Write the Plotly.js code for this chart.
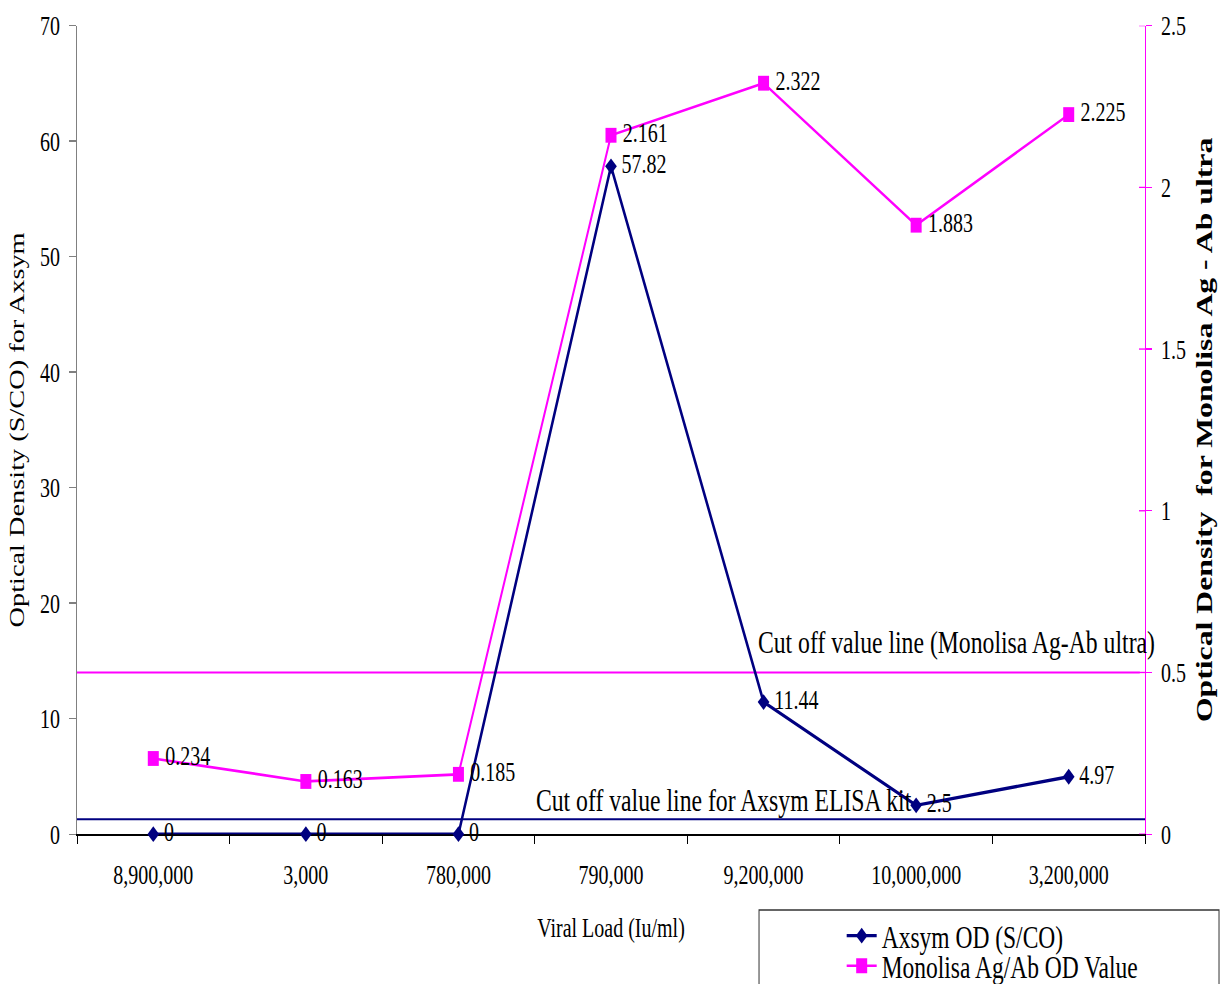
<!DOCTYPE html>
<html>
<head>
<meta charset="utf-8">
<script src="https://cdn.plot.ly/plotly-3.0.1.min.js"></script>
<style>
  html { margin: 0; padding: 0; background: #fff; overflow: hidden; height: 984px; }
  body { margin: 0; padding: 0; background: #fff; height: 984px; }
  /* drawn at 729px tall, then stretched vertically to fill the 984px window */
  #chart { width: 1227px; height: 729px; transform-origin: 0 0; transform: scaleY(1.3498); }
</style>
</head>
<body>
<div id="chart"></div>
<script>
// Viral load of each sample (category axis)
const viralLoads = ['8,900,000', '3,000', '780,000', '790,000', '9,200,000', '10,000,000', '3,200,000'];
// Axsym optical density, S/CO (left axis)
const axsymOD = [0, 0, 0, 57.82, 11.44, 2.5, 4.97];
// Monolisa Ag/Ab optical density (right axis)
const monolisaOD = [0.234, 0.163, 0.185, 2.161, 2.322, 1.883, 2.225];
// Cut-off values for each kit
const axsymCutoff = 1.3;
const monolisaCutoff = 0.5;
// Axis ticks
const leftTicks = [0, 10, 20, 30, 40, 50, 60, 70];
const rightTicks = [0, 0.5, 1, 1.5, 2, 2.5];

const FONT = 'Liberation Serif, Times New Roman, serif';
const NAVY = '#000080';
const MAGENTA = '#FF00FF';

const axsymTrace = {
  type: 'scatter',
  name: 'Axsym OD (S/CO)',
  x: viralLoads,
  y: axsymOD,
  yaxis: 'y',
  mode: 'lines+markers+text',
  text: axsymOD.map(String),
  texttemplate: '\u2009%{text}',
  textposition: 'middle right',
  textfont: { family: FONT, size: 20, color: '#000' },
  line: { color: NAVY, width: 2.5 },
  marker: { symbol: 'diamond', size: 9, color: NAVY },
  cliponaxis: false,
  legend: 'legend'
};

const monolisaTrace = {
  type: 'scatter',
  name: 'Monolisa Ag/Ab OD Value',
  x: viralLoads,
  y: monolisaOD,
  yaxis: 'y2',
  mode: 'lines+markers+text',
  text: monolisaOD.map(String),
  texttemplate: '\u2009%{text}',
  textposition: 'middle right',
  textfont: { family: FONT, size: 20, color: '#000' },
  line: { color: MAGENTA, width: 2 },
  marker: { symbol: 'square', size: 11, color: MAGENTA },
  cliponaxis: false,
  legend: 'legend2'
};

// Short inward tick marks on the right axis (outward ones come from the axis itself)
const innerRightTicks = rightTicks.map(v => ({
  type: 'line', xref: 'paper', yref: 'y2',
  x0: 1 - 6 / 1068, x1: 1, y0: v, y1: v,
  line: { color: MAGENTA, width: 1 }
}));

const shapes = [
  { type: 'line', xref: 'paper', yref: 'y2', x0: 0, x1: 0.995, y0: monolisaCutoff, y1: monolisaCutoff,
    line: { color: MAGENTA, width: 1.5 }, layer: 'below' },
  { type: 'line', xref: 'paper', yref: 'y', x0: 0, x1: 1, y0: axsymCutoff, y1: axsymCutoff,
    line: { color: NAVY, width: 1.5 }, layer: 'below' },
  // legend frame
  { type: 'rect', xref: 'paper', yref: 'paper', x0: 0.6386, x1: 1.0693, y0: -0.0938, y1: -0.35,
    line: { color: '#333', width: 1 }, fillcolor: 'rgba(0,0,0,0)' }
].concat(innerRightTicks);

const legendBase = {
  x: 0.716, xanchor: 'left', yanchor: 'middle',
  bgcolor: 'rgba(0,0,0,0)', borderwidth: 0,
  font: { family: FONT, size: 23.5, color: '#000' }
};

const layout = {
  width: 1227,
  height: 729,
  margin: { l: 77, r: 82, t: 19, b: 111, autoexpand: false },
  paper_bgcolor: '#fff',
  plot_bgcolor: '#fff',
  font: { family: FONT, size: 20, color: '#000' },
  showlegend: true,
  legend: Object.assign({ y: -0.1259 }, legendBase),
  legend2: Object.assign({ y: -0.1631 }, legendBase),
  xaxis: {
    type: 'category',
    range: [-0.5, 6.5],
    tickson: 'boundaries',
    ticks: 'outside', ticklen: 6, tickcolor: '#000', tickwidth: 1,
    showline: true, linecolor: '#000', linewidth: 1,
    showgrid: false, zeroline: false,
    layer: 'below traces',
    tickfont: { family: FONT, size: 20, color: '#000' },
    ticklabelstandoff: 12,
    title: { text: 'Viral Load (Iu/ml)', font: { family: FONT, size: 20, color: '#000' }, standoff: 22 }
  },
  yaxis: {
    range: [0, 70],
    tickvals: leftTicks,
    ticks: 'outside', ticklen: 7, tickcolor: '#808080',
    showline: true, linecolor: '#808080', linewidth: 1,
    showgrid: false, zeroline: false,
    layer: 'below traces',
    tickfont: { family: FONT, size: 20, color: '#000' },
    ticklabelstandoff: 5,
    title: { text: 'Optical Density (S/CO) for Axsym', font: { family: FONT, size: 21, color: '#000' }, standoff: 9 }
  },
  yaxis2: {
    overlaying: 'y',
    side: 'right',
    range: [0, 2.5],
    tickvals: rightTicks,
    ticks: 'outside', ticklen: 6, tickcolor: MAGENTA,
    showline: true, linecolor: MAGENTA, linewidth: 1,
    showgrid: false, zeroline: false,
    layer: 'below traces',
    tickfont: { family: FONT, size: 20, color: '#000' },
    ticklabelstandoff: 5,
    title: { text: 'Optical Density\u00a0 for Monolisa Ag - Ab ultra',
             font: { family: FONT, size: 23.5, color: '#000', weight: 'bold' }, standoff: 10 }
  },
  shapes: shapes,
  annotations: [
    { text: 'Cut off value line (Monolisa Ag-Ab ultra)', xref: 'paper', yref: 'paper',
      x: 0.636, y: 0.2364, xanchor: 'left', yanchor: 'middle', showarrow: false,
      font: { family: FONT, size: 23.7, color: '#000' } },
    { text: 'Cut off value line for Axsym ELISA kit', xref: 'paper', yref: 'paper',
      x: 0.428, y: 0.0422, xanchor: 'left', yanchor: 'middle', showarrow: false,
      font: { family: FONT, size: 23.7, color: '#000' } }
  ]
};

Plotly.newPlot('chart', [axsymTrace, monolisaTrace], layout, { staticPlot: true, displayModeBar: false });
</script>
</body>
</html>
